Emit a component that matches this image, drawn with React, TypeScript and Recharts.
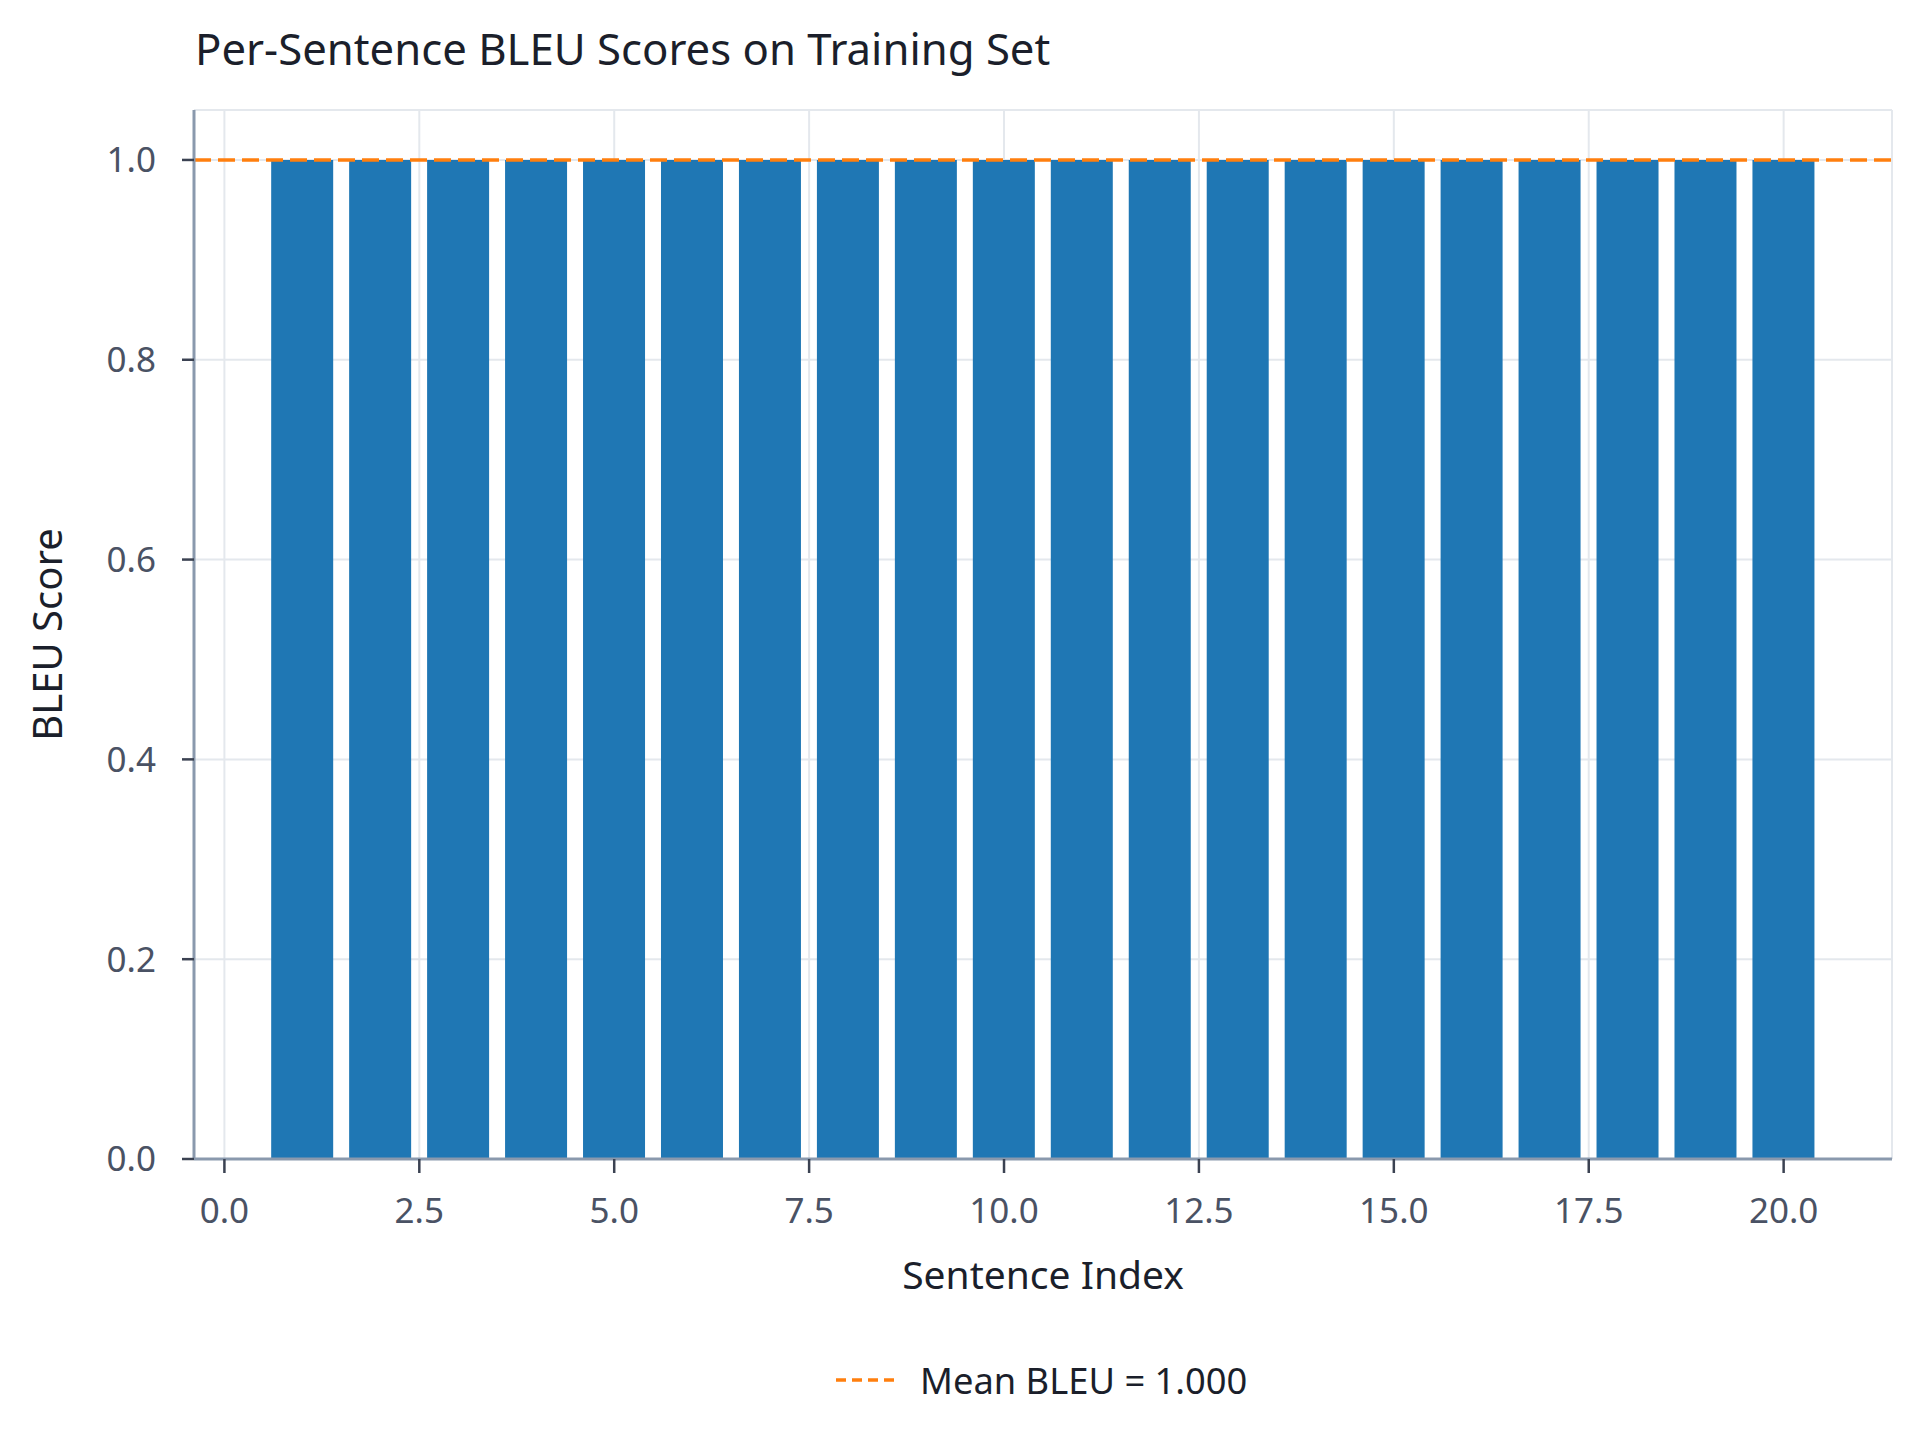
import { Bar, CartesianGrid, ComposedChart, Label, ReferenceLine, XAxis, YAxis } from 'recharts'

// sentence indices and per-sentence BLEU scores (all perfect on training set)
const sentenceIndex = [1, 2, 3, 4, 5, 6, 7, 8, 9, 10, 11, 12, 13, 14, 15, 16, 17, 18, 19, 20]
const bleuScores = [1, 1, 1, 1, 1, 1, 1, 1, 1, 1, 1, 1, 1, 1, 1, 1, 1, 1, 1, 1]
const xTicks = [0, 2.5, 5, 7.5, 10, 12.5, 15, 17.5, 20]
const yTicks = [0, 0.2, 0.4, 0.6, 0.8, 1.0]

const meanBleu = bleuScores.reduce((a, b) => a + b, 0) / bleuScores.length

const FONT = '"Noto Sans", "Open Sans", sans-serif'
const BLUE = '#1f77b4'
const ORANGE = '#ff7f0e'
const AXIS = '#8a99ad'
const GRID = '#e4e8ed'
const TICK_TEXT = '#4a5264'
const INK = '#1b1f2b'

export default function App() {
  const data = sentenceIndex.map((idx, i) => ({ idx, score: bleuScores[i] }))

  return (
    <div style={{ position: 'absolute', left: 0, top: 0, width: 1920, height: 1451, background: '#fff', fontFamily: FONT }}>
      <div
        style={{
          position: 'absolute',
          left: 195,
          top: 27,
          fontSize: 43.7,
          lineHeight: 1,
          color: INK,
          whiteSpace: 'nowrap',
        }}
      >
        Per-Sentence BLEU Scores on Training Set
      </div>

      <ComposedChart
        width={1920}
        height={1451}
        data={data}
        margin={{ top: 110, right: 28, bottom: 142, left: 0 }}
        barCategoryGap="10%"
        style={{ position: 'absolute', left: 0, top: 0 }}
      >
        <CartesianGrid stroke={GRID} strokeWidth={2} />
        <XAxis
          dataKey="idx"
          type="number"
          domain={[-0.39, 21.39]}
          ticks={xTicks}
          tickFormatter={(v: number) => v.toFixed(1)}
          interval={0}
          height={150}
          axisLine={{ stroke: AXIS, strokeWidth: 3 }}
          tickLine={{ stroke: '#3b4252', strokeWidth: 2.5 }}
          tickSize={14}
          tickMargin={25}
          tick={{ fill: TICK_TEXT, fontSize: 35, fontFamily: FONT }}
        >
          <Label
            value="Sentence Index"
            position="insideTop"
            offset={102}
            style={{ fill: INK, fontSize: 39, fontFamily: FONT }}
          />
        </XAxis>
        <YAxis
          type="number"
          domain={[0, 1.05]}
          ticks={yTicks}
          tickFormatter={(v: number) => v.toFixed(1)}
          interval={0}
          width={194}
          axisLine={{ stroke: AXIS, strokeWidth: 3 }}
          tickLine={{ stroke: '#3b4252', strokeWidth: 2.5 }}
          tickSize={12}
          tickMargin={26}
          tick={{ fill: TICK_TEXT, fontSize: 35, fontFamily: FONT }}
        >
          <Label
            value="BLEU Score"
            angle={-90}
            position="insideLeft"
            offset={48}
            style={{ fill: INK, fontSize: 40, fontFamily: FONT, textAnchor: 'middle' }}
          />
        </YAxis>
        <Bar dataKey="score" fill={BLUE} isAnimationActive={false} />
        <ReferenceLine y={meanBleu} stroke={ORANGE} strokeWidth={3.5} strokeDasharray="17 7" ifOverflow="extendDomain" />
      </ComposedChart>

      <div
        style={{
          position: 'absolute',
          left: 836,
          top: 1362,
          display: 'flex',
          alignItems: 'center',
          fontSize: 36.3,
          lineHeight: 1,
          color: INK,
          whiteSpace: 'nowrap',
        }}
      >
        <svg width={64} height={10} style={{ marginRight: 20 }}>
          <line x1={0} y1={5} x2={64} y2={5} stroke={ORANGE} strokeWidth={3.5} strokeDasharray="10 6" />
        </svg>
        <span>Mean BLEU = {meanBleu.toFixed(3)}</span>
      </div>
    </div>
  )
}
